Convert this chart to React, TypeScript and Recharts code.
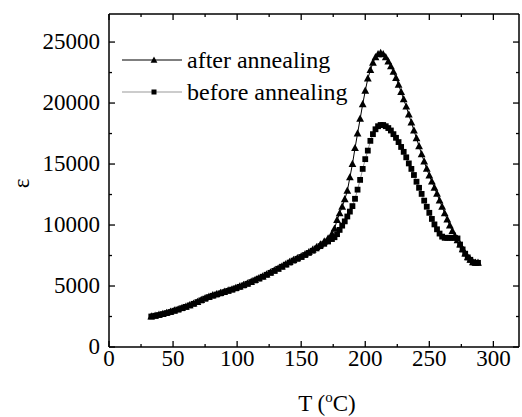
import React from 'react';
import { ScatterChart, Scatter, XAxis, YAxis, ReferenceLine, Legend } from 'recharts';

// ε(T) before/after annealing

const SERIF = '"Liberation Serif", "Times New Roman", serif';
const W = 522;
const H = 417;
const MARGIN = { top: 14, right: 3, bottom: 0, left: 0 };
const Y_AXIS_W = 109;
const X_AXIS_H = 70;
const PLOT_TOP = MARGIN.top;
const PLOT_RIGHT = W - MARGIN.right;

const X_MAX = 320;
const Y_MAX = 27300;
const xTicks = [0, 25, 50, 75, 100, 125, 150, 175, 200, 225, 250, 275, 300];
const yTicks = [0, 2500, 5000, 7500, 10000, 12500, 15000, 17500, 20000, 22500, 25000];

const afterT = [
  33, 36, 39, 42, 45, 48, 51, 54, 57, 60, 63, 66, 69, 72, 75, 78, 81, 84, 87, 90, 93, 96, 99, 102,
  105, 108, 111, 114, 117, 120, 123, 126, 129, 132, 135, 138, 141, 144, 147, 150, 153, 156, 159,
  162, 165, 168, 171, 174, 176, 178, 180, 182, 184, 186, 188, 190, 192, 194, 196, 198, 200, 202,
  204, 206, 208, 210, 212, 214, 216, 218, 220, 222, 224, 226, 228, 230, 232, 234, 236, 238, 240,
  242, 244, 246, 248, 250, 252, 254, 256, 258, 260, 262, 264, 266, 268, 270, 272, 274, 276, 278,
  280, 282, 284, 286, 288,
];
const afterEps = [
  2500, 2560, 2630, 2700, 2790, 2880, 2980, 3080, 3190, 3300, 3420, 3550, 3690, 3840, 3990, 4120,
  4230, 4330, 4420, 4520, 4620, 4720, 4830, 4950, 5070, 5200, 5340, 5480, 5630, 5780, 5940, 6100,
  6260, 6430, 6600, 6780, 6960, 7120, 7270, 7420, 7590, 7770, 7970, 8180, 8400, 8650, 8900, 9250,
  9700, 10400, 10950, 11500, 12100, 12800, 13900, 15000, 16300, 17500, 18700, 19900, 21000, 22000,
  22700, 23300, 23750, 24000, 24100, 24000, 23750, 23400, 23000, 22550, 22050, 21500, 20900, 20300,
  19700, 19050, 18400, 17750, 17100, 16450, 15800, 15200, 14600, 14050, 13550, 13050, 12550, 12000,
  11500, 10950, 10450, 9950, 9500, 9100, 8750, 8400, 8000, 7650, 7350, 7150, 6950, 6900, 6900,
];

const beforeT = afterT;
const beforeEps = [
  2500, 2560, 2620, 2700, 2780, 2870, 2970, 3070, 3180, 3290, 3410, 3540, 3680, 3820, 3960, 4090,
  4200, 4300, 4400, 4500, 4600, 4700, 4810, 4930, 5050, 5180, 5320, 5460, 5610, 5760, 5920, 6080,
  6240, 6410, 6580, 6750, 6920, 7080, 7230, 7380, 7540, 7710, 7890, 8080, 8270, 8460, 8650, 8850,
  9000, 9250, 9600, 9950, 10300, 10700, 11100, 11550, 12150, 12900, 13700, 14600, 15400, 16100,
  16900, 17450, 17850, 18100, 18200, 18200, 18100, 17950, 17750, 17450, 17150, 16800, 16400, 16000,
  15550, 15050, 14600, 14100, 13550, 13050, 12550, 12000, 11500, 11000, 10500, 10050, 9650, 9300,
  9050, 8950, 8950, 8950, 8950, 8950, 8900, 8400, 8000, 7650, 7350, 7150, 6950, 6900, 6900,
];

const afterData = afterT.map((t, i) => ({ t, e: afterEps[i] }));
const beforeData = beforeT.map((t, i) => ({ t, e: beforeEps[i] }));

const FONT = 23;
const textStyle = { fontFamily: SERIF, fontSize: FONT, fill: '#000' };

function XTick(props: any) {
  const { x, y, payload } = props;
  const v = payload.value;
  const major = v % 50 === 0;
  const len = major ? 6 : 3;
  return (
    <g>
      <line x1={x} x2={x} y1={y} y2={y - len} stroke="#000" strokeWidth={1.3} />
      <line x1={x} x2={x} y1={PLOT_TOP} y2={PLOT_TOP + len} stroke="#000" strokeWidth={1.3} />
      {major && (
        <text x={x} y={y + 19} textAnchor="middle" style={textStyle}>
          {v}
        </text>
      )}
    </g>
  );
}

function YTick(props: any) {
  const { x, y, payload } = props;
  const v = payload.value;
  const major = v % 5000 === 0;
  const len = major ? 6 : 3;
  return (
    <g>
      <line x1={x} x2={x + len} y1={y} y2={y} stroke="#000" strokeWidth={1.3} />
      <line x1={PLOT_RIGHT} x2={PLOT_RIGHT - len} y1={y} y2={y} stroke="#000" strokeWidth={1.3} />
      {major && (
        <text x={x - 9} y={y + 7} textAnchor="end" style={textStyle}>
          {v}
        </text>
      )}
    </g>
  );
}

const Tri = (p: any) => (
  <polygon
    points={`${p.cx},${p.cy - 4.3} ${p.cx - 3.9},${p.cy + 2.9} ${p.cx + 3.9},${p.cy + 2.9}`}
    fill="#000"
  />
);
const Sq = (p: any) => <rect x={p.cx - 2.9} y={p.cy - 2.9} width={5.8} height={5.8} fill="#000" />;

function LegendBox() {
  const rows = [
    { name: 'after annealing', color: '#000', tri: true },
    { name: 'before annealing', color: '#999', tri: false },
  ];
  return (
    <div style={{ fontFamily: SERIF, fontSize: 24, color: '#000' }}>
      {rows.map((r) => (
        <div key={r.name} style={{ display: 'flex', alignItems: 'center', height: 32 }}>
          <svg width={60} height={12} style={{ display: 'block' }}>
            <line x1={0} x2={60} y1={6} y2={6} stroke={r.color} strokeWidth={1.2} />
            {r.tri ? (
              <polygon points="32,2.5 28.6,8.7 35.4,8.7" fill="#000" />
            ) : (
              <rect x={29.5} y={3.5} width={5} height={5} fill="#000" />
            )}
          </svg>
          <span style={{ marginLeft: 5, lineHeight: '32px' }}>{r.name}</span>
        </div>
      ))}
    </div>
  );
}

export default function App() {
  return (
    <div style={{ position: 'absolute', left: 0, top: 0, width: W, height: H, background: '#fff' }}>
      <ScatterChart width={W} height={H} margin={MARGIN}>
        <XAxis
          type="number"
          dataKey="t"
          domain={[0, X_MAX]}
          ticks={xTicks}
          interval={0}
          height={X_AXIS_H}
          tickSize={0}
          tickMargin={0}
          tickLine={false}
          tick={<XTick />}
          axisLine={{ stroke: '#000', strokeWidth: 1.5 }}
          allowDataOverflow
          label={{
            content: (p: any) => {
              const vb = p.viewBox;
              return (
                <text
                  x={vb.x + vb.width / 2 + 13}
                  y={vb.y + 64}
                  textAnchor="middle"
                  style={{ fontFamily: SERIF, fontSize: 23, fill: '#000' }}
                >
                  T (<tspan dy={-9} fontSize={15}>o</tspan>
                  <tspan dy={9}>C)</tspan>
                </text>
              );
            },
          }}
        />
        <YAxis
          type="number"
          dataKey="e"
          domain={[0, Y_MAX]}
          ticks={yTicks}
          interval={0}
          width={Y_AXIS_W}
          tickSize={0}
          tickMargin={0}
          tickLine={false}
          tick={<YTick />}
          axisLine={{ stroke: '#000', strokeWidth: 1.5 }}
          allowDataOverflow
          label={{
            content: (p: any) => {
              const vb = p.viewBox;
              const cx = 21;
              const cy = vb.y + vb.height / 2 + 3;
              return (
                <text
                  x={cx}
                  y={cy}
                  transform={`rotate(-90 ${cx} ${cy})`}
                  textAnchor="middle"
                  dominantBaseline="central"
                  style={{ fontFamily: SERIF, fontSize: 23, fill: '#000' }}
                >
                  ε
                </text>
              );
            },
          }}
        />
        <ReferenceLine y={Y_MAX} stroke="#000" strokeWidth={1.5} />
        <ReferenceLine x={X_MAX} stroke="#000" strokeWidth={1.5} />
        <Legend
          layout="vertical"
          align="center"
          verticalAlign="middle"
          content={() => <LegendBox />}
          wrapperStyle={{ left: 122, top: 44, width: 270 }}
        />
        <Scatter
          name="after annealing"
          data={afterData}
          line={{ stroke: '#000', strokeWidth: 1 }}
          lineType="joint"
          shape={Tri}
          fill="#000"
          isAnimationActive={false}
        />
        <Scatter
          name="before annealing"
          data={beforeData}
          line={{ stroke: '#999', strokeWidth: 1 }}
          lineType="joint"
          shape={Sq}
          fill="#000"
          isAnimationActive={false}
        />
      </ScatterChart>
    </div>
  );
}
